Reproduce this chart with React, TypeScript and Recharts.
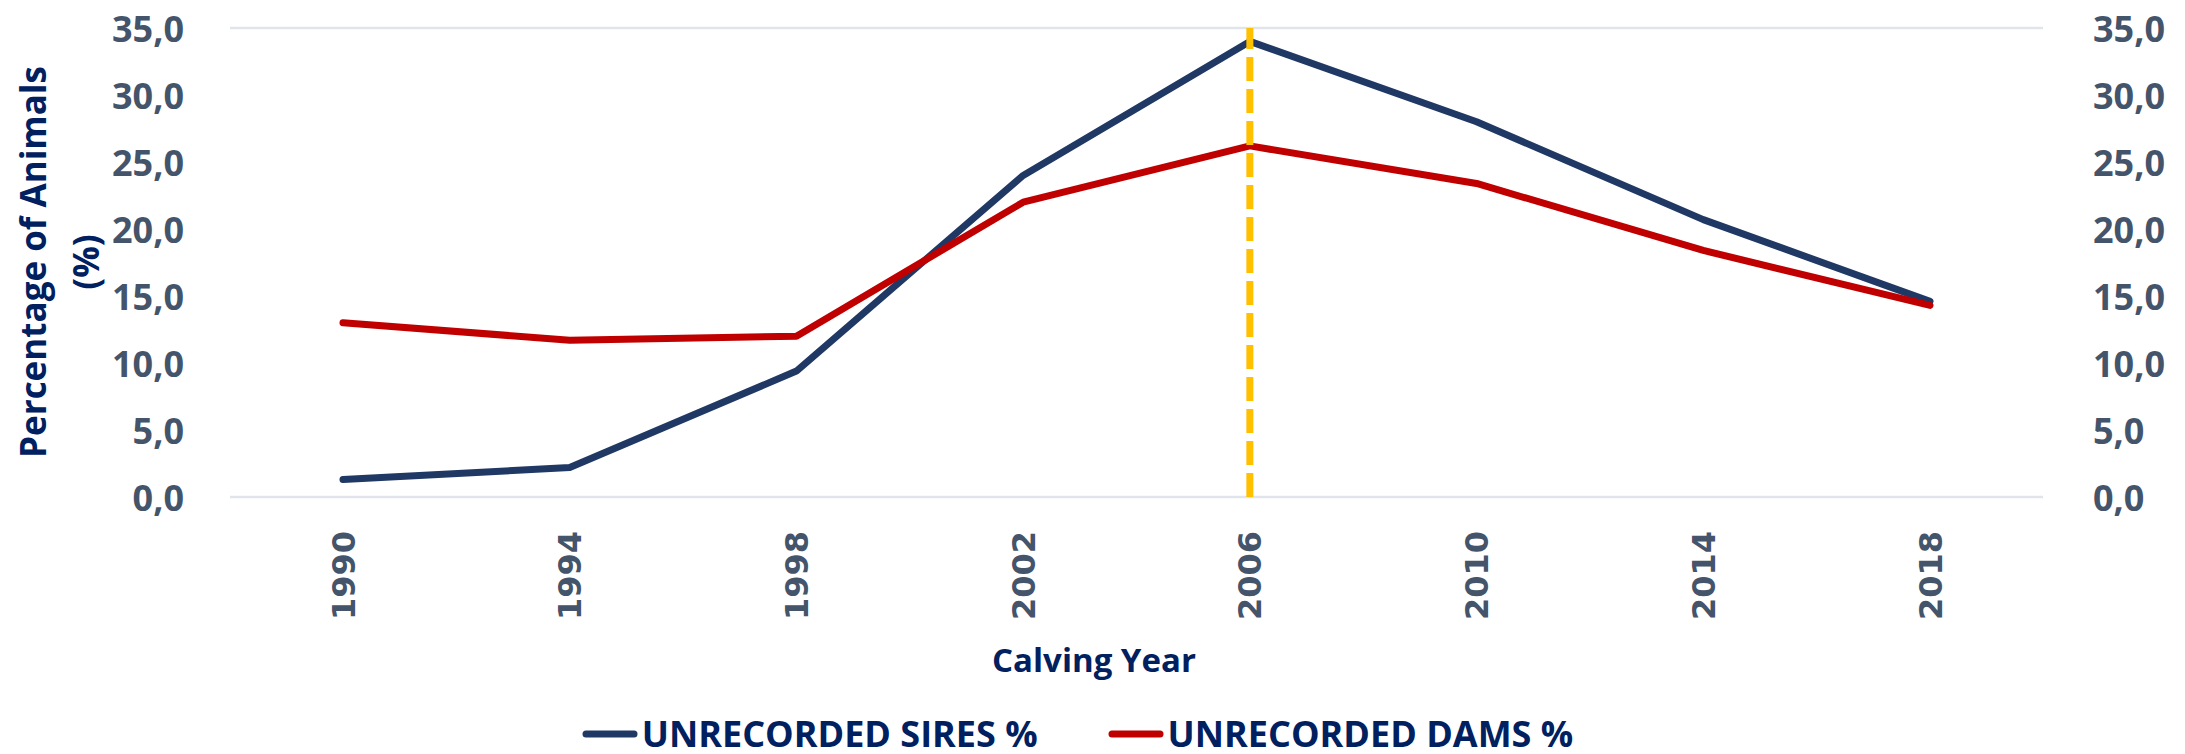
import React from 'react';
import {
  CartesianGrid,
  Legend,
  Line,
  LineChart,
  ReferenceLine,
  XAxis,
  YAxis,
} from 'recharts';

const years = ['1990', '1994', '1998', '2002', '2006', '2010', '2014', '2018'];
const siresPct = [1.3, 2.2, 9.4, 24.0, 34.0, 28.0, 20.7, 14.6];
const damsPct = [13.0, 11.7, 12.0, 22.0, 26.2, 23.4, 18.4, 14.3];
const yTicks = [0, 5, 10, 15, 20, 25, 30, 35];
const markerYear = '2006';

const data = years.map((year, i) => ({
  year,
  sires: siresPct[i],
  dams: damsPct[i],
}));

const NAVY = '#002060';
const TICK = '#44546A';
const SIRES = '#203864';
const DAMS = '#C00000';
const SANS = '"Open Sans", "Noto Sans", sans-serif';

const fmt = (v: number) => v.toFixed(1).replace('.', ',');

function LeftTick({ x, y, payload }: any) {
  return (
    <text x={x - 38} y={y} textAnchor="end" dominantBaseline="central"
      fill={TICK} fontFamily={SANS} fontWeight={700} fontSize={36}>
      {fmt(payload.value)}
    </text>
  );
}

function RightTick({ x, y, payload }: any) {
  return (
    <text x={x + 42} y={y} textAnchor="start" dominantBaseline="central"
      fill={TICK} fontFamily={SANS} fontWeight={700} fontSize={36}>
      {fmt(payload.value)}
    </text>
  );
}

function YearTick({ x, y, payload }: any) {
  const ty = y + 26;
  return (
    <text x={x} y={ty} dy="0.36em" transform={`rotate(-90, ${x}, ${ty})`}
      textAnchor="end" fill={TICK} fontFamily='"DejaVu Sans", sans-serif'
      fontWeight={700} fontSize={32}>
      {payload.value}
    </text>
  );
}

function YTitle() {
  const cy = 262;
  return (
    <g fill={NAVY} fontFamily={SANS} fontWeight={700} fontSize={35}>
      <text x={32} y={cy} transform={`rotate(-90, 32, ${cy})`} textAnchor="middle" dominantBaseline="central">
        Percentage of Animals
      </text>
      <text x={85} y={cy} transform={`rotate(-90, 85, ${cy})`} textAnchor="middle" dominantBaseline="central">
        (%)
      </text>
    </g>
  );
}

function XTitle() {
  return (
    <text x={1094} y={659} textAnchor="middle" dominantBaseline="central"
      fill={NAVY} fontFamily={SANS} fontWeight={700} fontSize={33}>
      Calving Year
    </text>
  );
}

const legendItems = [
  { label: 'UNRECORDED SIRES %', color: SIRES },
  { label: 'UNRECORDED DAMS %', color: DAMS },
];

function LegendBox() {
  return (
    <div style={{ display: 'flex', justifyContent: 'center', alignItems: 'center', gap: 70, paddingRight: 30, height: 40 }}>
      {legendItems.map((it) => (
        <div key={it.label} style={{ display: 'flex', alignItems: 'center', gap: 4 }}>
          <svg width={56} height={10}>
            <line x1={4} y1={5} x2={52} y2={5} stroke={it.color} strokeWidth={7} strokeLinecap="round" />
          </svg>
          <span style={{ color: NAVY, fontFamily: SANS, fontWeight: 700, fontSize: 36, lineHeight: '40px' }}>
            {it.label}
          </span>
        </div>
      ))}
    </div>
  );
}

export default function App() {
  return (
    <>
      <style>{`body{margin:0;background:#fff}`}</style>
      <LineChart width={2185} height={754} data={data}
        margin={{ top: 28, right: 0, bottom: 0, left: 0 }}>
        <CartesianGrid vertical={false} stroke="#E1E5EB" strokeWidth={2.5} />
        <XAxis dataKey="year" height={217} padding={{ left: 113, right: 113 }}
          axisLine={false} tickLine={false} tick={<YearTick />} interval={0}
          label={<XTitle />} />
        <YAxis yAxisId="left" width={230} domain={[0, 35]} ticks={yTicks}
          axisLine={false} tickLine={false} tick={<LeftTick />} label={<YTitle />} />
        <YAxis yAxisId="right" orientation="right" width={142} domain={[0, 35]} ticks={yTicks}
          axisLine={false} tickLine={false} tick={<RightTick />} />
        <Line yAxisId="left" type="linear" dataKey="sires" name="UNRECORDED SIRES %"
          stroke={SIRES} strokeWidth={7} dot={false} strokeLinecap="round" strokeLinejoin="round"
          isAnimationActive={false} />
        <Line yAxisId="right" type="linear" dataKey="dams" name="UNRECORDED DAMS %"
          stroke={DAMS} strokeWidth={7} dot={false} strokeLinecap="round" strokeLinejoin="round"
          isAnimationActive={false} />
        <ReferenceLine yAxisId="left" x={markerYear} stroke="#FFC000" strokeWidth={7}
          strokeDasharray="24 8" />
        <Legend verticalAlign="bottom" height={40} content={<LegendBox />} />
      </LineChart>
    </>
  );
}
